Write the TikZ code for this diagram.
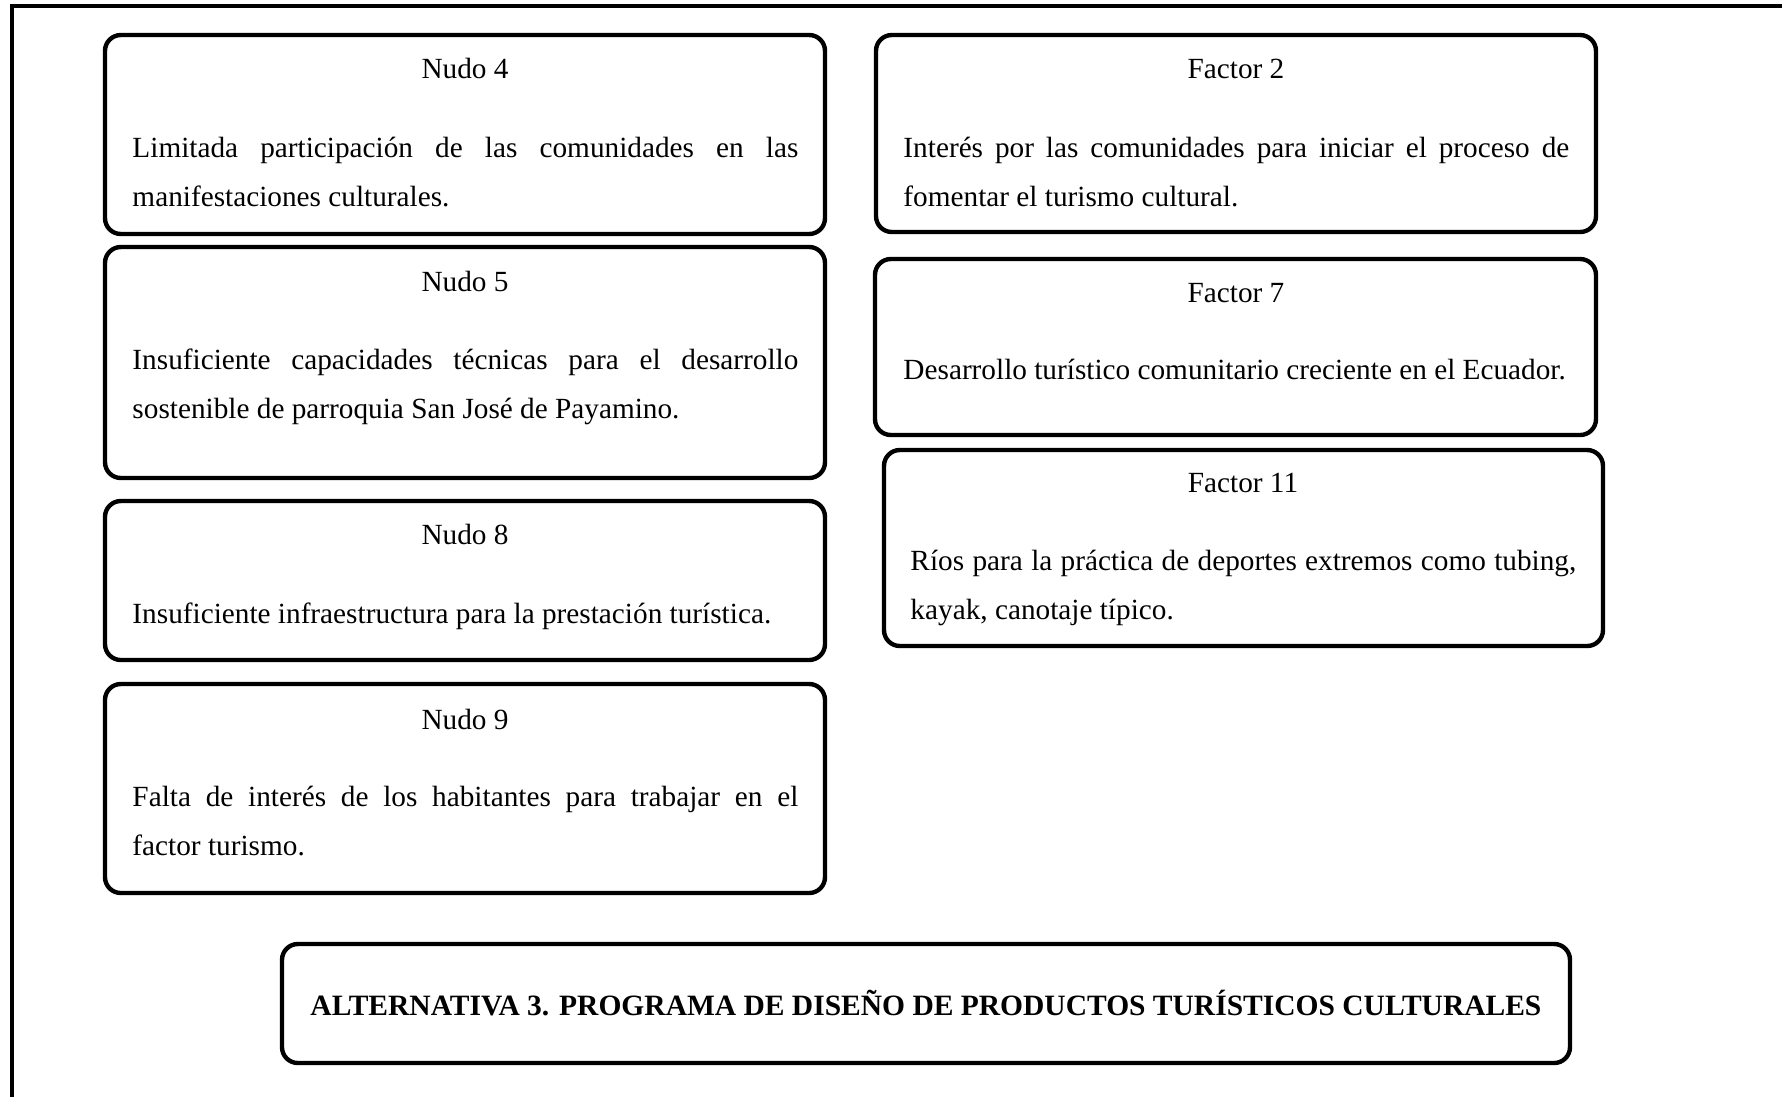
\documentclass[tikz,border=0pt]{standalone}
\usepackage{fontspec}
\setmainfont{Liberation Serif}
\usetikzlibrary{fit}

\begin{document}
\begin{tikzpicture}[x=0.41pt, y=-0.41pt, line cap=round,
  box/.style={draw, line width=1.8pt, rounded corners=6.5pt, inner sep=0pt},
  head/.style={anchor=base, inner sep=0pt, font=\fontsize{12}{20.1}\selectfont},
  oneline/.style={anchor=base west, inner sep=0pt, font=\fontsize{12}{20.1}\selectfont},
  body/.style={oneline, text width=273pt, align=justify,
    execute at begin node={\hyphenpenalty=10000\exhyphenpenalty=10000\tolerance=9999}}]
  \useasboundingbox (0,0) rectangle (1782,1096);
  % outer frame, only its top and left edges show
  \draw[line width=1.8pt, line cap=rect] (1782,6) -- (12,6) -- (12,1096);

  % left column: nudos
  \node[box, fit={(105,35) (825,234)}] (n4) {};
  \node[head] (n4h) at (465,78) {Nudo 4};
  \node[body] (n4b) at (132,157) {Limitada participación de las comunidades en las manifestaciones culturales.};

  \node[box, fit={(105,247) (825,478)}] (n5) {};
  \node[head] (n5h) at (465,291) {Nudo 5};
  \node[body] (n5b) at (132,369) {Insuficiente capacidades técnicas para el desarrollo sostenible de parroquia San José de Payamino.};

  \node[box, fit={(105,501) (825,660)}] (n8) {};
  \node[head] (n8h) at (465,544) {Nudo 8};
  \node[oneline] (n8b) at (132,623) {Insuficiente infraestructura para la prestación turística.};

  \node[box, fit={(105,684) (825,893)}] (n9) {};
  \node[head] (n9h) at (465,729) {Nudo 9};
  \node[body] (n9b) at (132,806) {Falta de interés de los habitantes para trabajar en el\linebreak factor turismo.};

  % right column: factores
  \node[box, fit={(876,35) (1596,232)}] (f2) {};
  \node[head] (f2h) at (1236,78) {Factor 2};
  \node[body] (f2b) at (903,157) {Interés por las comunidades para iniciar el proceso de fomentar el turismo cultural.};

  \node[box, fit={(875,259) (1596,435)}] (f7) {};
  \node[head] (f7h) at (1236,302) {Factor 7};
  \node[oneline] (f7b) at (903,379) {Desarrollo turístico comunitario creciente en el Ecuador.};

  \node[box, fit={(884,450) (1603,646)}] (f11) {};
  \node[head] (f11h) at (1243,492) {Factor 11};
  \node[body] (f11b) at (910,570) {Ríos para la práctica de deportes extremos como tubing, kayak, canotaje típico.};

  % alternative
  \node[box, fit={(282,944) (1570,1063)}] (alt) {};
  \node[head, font=\fontsize{12.1}{20.1}\selectfont\bfseries] (alth) at (926,1015) {ALTERNATIVA 3. PROGRAMA DE DISEÑO DE PRODUCTOS TURÍSTICOS CULTURALES};
\end{tikzpicture}
\end{document}
